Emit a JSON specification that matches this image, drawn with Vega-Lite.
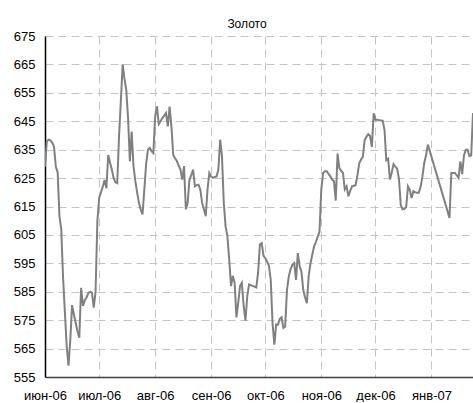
{
  "$schema": "https://vega.github.io/schema/vega-lite/v6.json",
  "width": 428,
  "height": 341,
  "padding": {"left": 0, "top": 18, "right": 0, "bottom": 0},
  "title": {"text": "Золото", "fontSize": 12, "fontWeight": "normal", "font": "Liberation Sans", "color": "#000000", "anchor": "middle", "frame": "group", "dx": -12, "offset": -1},
  "config": {"view": {"stroke": null}, "font": "Liberation Sans"},
  "data": {"values": [
    {"d":"2006-06-01","v":629},{"d":"2006-06-02","v":638},{"d":"2006-06-03","v":638.5},{"d":"2006-06-04","v":638.3},{"d":"2006-06-05","v":637.5},{"d":"2006-06-06","v":636},{"d":"2006-06-07","v":629},{"d":"2006-06-08","v":627},{"d":"2006-06-09","v":611.6},{"d":"2006-06-10","v":607},
    {"d":"2006-06-11","v":590},{"d":"2006-06-12","v":578},{"d":"2006-06-13","v":566},{"d":"2006-06-14","v":559},{"d":"2006-06-15","v":568},{"d":"2006-06-16","v":580.3},{"d":"2006-06-17","v":577},{"d":"2006-06-18","v":574},{"d":"2006-06-19","v":571},{"d":"2006-06-20","v":568.8},
    {"d":"2006-06-21","v":586.4},{"d":"2006-06-22","v":580},{"d":"2006-06-23","v":582},{"d":"2006-06-24","v":583},{"d":"2006-06-25","v":584.5},{"d":"2006-06-26","v":585},{"d":"2006-06-27","v":584.7},{"d":"2006-06-28","v":579.4},{"d":"2006-06-29","v":585},{"d":"2006-06-30","v":610},
    {"d":"2006-07-01","v":618},{"d":"2006-07-02","v":620},{"d":"2006-07-03","v":622},{"d":"2006-07-04","v":624.3},{"d":"2006-07-05","v":621.4},{"d":"2006-07-06","v":633.1},{"d":"2006-07-07","v":630.5},{"d":"2006-07-08","v":628},{"d":"2006-07-09","v":625},{"d":"2006-07-10","v":623.5},
    {"d":"2006-07-11","v":623.2},{"d":"2006-07-12","v":639.7},{"d":"2006-07-13","v":652},{"d":"2006-07-14","v":665},{"d":"2006-07-15","v":660},{"d":"2006-07-16","v":656},{"d":"2006-07-17","v":646},{"d":"2006-07-18","v":630.9},{"d":"2006-07-19","v":641.4},{"d":"2006-07-20","v":629.2},
    {"d":"2006-07-21","v":624},{"d":"2006-07-22","v":620},{"d":"2006-07-23","v":616.3},{"d":"2006-07-24","v":614},{"d":"2006-07-25","v":612.2},{"d":"2006-07-26","v":621},{"d":"2006-07-27","v":630},{"d":"2006-07-28","v":635},{"d":"2006-07-29","v":635.6},{"d":"2006-07-30","v":634.5},
    {"d":"2006-07-31","v":633.8},{"d":"2006-08-01","v":646.7},{"d":"2006-08-02","v":650.2},{"d":"2006-08-03","v":644},{"d":"2006-08-04","v":645},{"d":"2006-08-05","v":646.1},{"d":"2006-08-06","v":647},{"d":"2006-08-07","v":647.9},{"d":"2006-08-08","v":643.2},{"d":"2006-08-09","v":650.2},
    {"d":"2006-08-10","v":643.2},{"d":"2006-08-11","v":633.2},{"d":"2006-08-12","v":632},{"d":"2006-08-13","v":631},{"d":"2006-08-14","v":629.5},{"d":"2006-08-15","v":628},{"d":"2006-08-16","v":624.5},{"d":"2006-08-17","v":629.2},{"d":"2006-08-18","v":614},{"d":"2006-08-19","v":616.3},
    {"d":"2006-08-20","v":624.5},{"d":"2006-08-21","v":626},{"d":"2006-08-22","v":628},{"d":"2006-08-23","v":622.1},{"d":"2006-08-24","v":622.5},{"d":"2006-08-25","v":622.7},{"d":"2006-08-26","v":621},{"d":"2006-08-27","v":616.3},{"d":"2006-08-28","v":614},{"d":"2006-08-29","v":611.6},
    {"d":"2006-08-30","v":621},{"d":"2006-08-31","v":626.8},{"d":"2006-09-01","v":625.5},{"d":"2006-09-02","v":625.1},{"d":"2006-09-03","v":625.4},{"d":"2006-09-04","v":625.6},{"d":"2006-09-05","v":628},{"d":"2006-09-06","v":638.5},{"d":"2006-09-07","v":632.7},{"d":"2006-09-08","v":616.3},
    {"d":"2006-09-09","v":608},{"d":"2006-09-10","v":604.6},{"d":"2006-09-11","v":596.4},{"d":"2006-09-12","v":587},{"d":"2006-09-13","v":590.6},{"d":"2006-09-14","v":588.2},{"d":"2006-09-15","v":576},{"d":"2006-09-16","v":581.2},{"d":"2006-09-17","v":587},{"d":"2006-09-18","v":588.2},
    {"d":"2006-09-19","v":580},{"d":"2006-09-20","v":574.8},{"d":"2006-09-21","v":583.5},{"d":"2006-09-22","v":587.6},{"d":"2006-09-23","v":587.3},{"d":"2006-09-24","v":587},{"d":"2006-09-25","v":586.8},{"d":"2006-09-26","v":586.5},{"d":"2006-09-27","v":591.7},{"d":"2006-09-28","v":601.7},
    {"d":"2006-09-29","v":602.1},{"d":"2006-09-30","v":597.6},{"d":"2006-10-01","v":596.8},{"d":"2006-10-02","v":595.6},{"d":"2006-10-03","v":594.1},{"d":"2006-10-04","v":589.2},{"d":"2006-10-05","v":574},{"d":"2006-10-06","v":566.4},{"d":"2006-10-07","v":573.5},{"d":"2006-10-08","v":573.4},
    {"d":"2006-10-09","v":575.5},{"d":"2006-10-10","v":576},{"d":"2006-10-11","v":572.3},{"d":"2006-10-12","v":572.8},{"d":"2006-10-13","v":585.7},{"d":"2006-10-14","v":590.4},{"d":"2006-10-15","v":593},{"d":"2006-10-16","v":594.5},{"d":"2006-10-17","v":595.1},{"d":"2006-10-18","v":589.2},
    {"d":"2006-10-19","v":598.6},{"d":"2006-10-20","v":594},{"d":"2006-10-21","v":592.1},{"d":"2006-10-22","v":585.7},{"d":"2006-10-23","v":583},{"d":"2006-10-24","v":581},{"d":"2006-10-25","v":590.4},{"d":"2006-10-26","v":595},{"d":"2006-10-27","v":598},{"d":"2006-10-28","v":600.9},
    {"d":"2006-10-29","v":602.5},{"d":"2006-10-30","v":604.4},{"d":"2006-10-31","v":606.2},{"d":"2006-11-01","v":621},{"d":"2006-11-02","v":626.8},{"d":"2006-11-03","v":627.4},{"d":"2006-11-04","v":627.4},{"d":"2006-11-05","v":626.5},{"d":"2006-11-06","v":625.6},{"d":"2006-11-07","v":624.5},
    {"d":"2006-11-08","v":623.9},{"d":"2006-11-09","v":617.1},{"d":"2006-11-10","v":633.6},{"d":"2006-11-11","v":628.5},{"d":"2006-11-12","v":627.5},{"d":"2006-11-13","v":626.8},{"d":"2006-11-14","v":621},{"d":"2006-11-15","v":622.1},{"d":"2006-11-16","v":618.6},{"d":"2006-11-17","v":620.5},
    {"d":"2006-11-18","v":622.1},{"d":"2006-11-19","v":622.3},{"d":"2006-11-20","v":622.5},{"d":"2006-11-21","v":626},{"d":"2006-11-22","v":630.2},{"d":"2006-11-23","v":631.5},{"d":"2006-11-24","v":632.5},{"d":"2006-11-25","v":638.4},{"d":"2006-11-26","v":639.5},{"d":"2006-11-27","v":640.5},
    {"d":"2006-11-28","v":639.8},{"d":"2006-11-29","v":636},{"d":"2006-11-30","v":647.8},{"d":"2006-12-01","v":645.5},{"d":"2006-12-02","v":645.5},{"d":"2006-12-03","v":645.4},{"d":"2006-12-04","v":645.3},{"d":"2006-12-05","v":645.2},{"d":"2006-12-06","v":642},{"d":"2006-12-07","v":631.3},
    {"d":"2006-12-08","v":631.8},{"d":"2006-12-09","v":624.5},{"d":"2006-12-10","v":627},{"d":"2006-12-11","v":629.9},{"d":"2006-12-12","v":629},{"d":"2006-12-13","v":628.3},{"d":"2006-12-14","v":624.8},{"d":"2006-12-15","v":615.5},{"d":"2006-12-16","v":614},{"d":"2006-12-17","v":614.2},
    {"d":"2006-12-18","v":614.8},{"d":"2006-12-19","v":622.1},{"d":"2006-12-20","v":620.8},{"d":"2006-12-21","v":618},{"d":"2006-12-22","v":620.4},{"d":"2006-12-23","v":620},{"d":"2006-12-24","v":619.8},{"d":"2006-12-25","v":619.8},{"d":"2006-12-26","v":622},{"d":"2006-12-27","v":625.6},
    {"d":"2006-12-28","v":630.3},{"d":"2006-12-29","v":633},{"d":"2006-12-30","v":636.8},
    {"d":"2007-01-11","v":611},{"d":"2007-01-12","v":626.8},{"d":"2007-01-13","v":626.8},{"d":"2007-01-14","v":626.8},{"d":"2007-01-15","v":626},{"d":"2007-01-16","v":625.1},{"d":"2007-01-17","v":630.9},{"d":"2007-01-18","v":626.4},{"d":"2007-01-19","v":633},{"d":"2007-01-20","v":635},
    {"d":"2007-01-21","v":635},{"d":"2007-01-22","v":632.7},{"d":"2007-01-23","v":633},{"d":"2007-01-24","v":647.9}
  ]},
  "mark": {"type": "line", "color": "#808080", "strokeWidth": 2, "clip": true},
  "encoding": {
    "x": {
      "field": "d", "type": "temporal",
      "scale": {"type": "utc", "domain": [{"year": 2006, "month": 6, "date": 1, "utc": true}, {"year": 2007, "month": 1, "date": 24, "utc": true}], "nice": false},
      "axis": {
        "title": null,
        "values": [
          {"year": 2006, "month": 6, "date": 1, "utc": true},
          {"year": 2006, "month": 7, "date": 1, "utc": true},
          {"year": 2006, "month": 8, "date": 1, "utc": true},
          {"year": 2006, "month": 9, "date": 1, "utc": true},
          {"year": 2006, "month": 10, "date": 1, "utc": true},
          {"year": 2006, "month": 11, "date": 1, "utc": true},
          {"year": 2006, "month": 12, "date": 1, "utc": true},
          {"year": 2007, "month": 1, "date": 1, "utc": true}
        ],
        "labelExpr": "['янв','фев','мар','апр','май','июн','июл','авг','сен','окт','ноя','дек'][utcmonth(datum.value)] + '-' + utcFormat(datum.value, '%y')",
        "ticks": false, "labelPadding": 12, "labelFontSize": 13, "labelColor": "#000000", "labelFont": "Liberation Sans",
        "domainColor": "#404040", "domainWidth": 1.5,
        "grid": true, "gridColor": "#c4c4c4", "gridDash": [8, 5], "gridWidth": 1,
        "labelFlush": false, "labelOverlap": false
      }
    },
    "y": {
      "field": "v", "type": "quantitative",
      "scale": {"domain": [555, 675], "nice": false, "zero": false},
      "axis": {
        "title": null,
        "values": [555, 565, 575, 585, 595, 605, 615, 625, 635, 645, 655, 665, 675],
        "ticks": false, "labelPadding": 10, "labelFontSize": 13, "labelColor": "#000000", "labelFont": "Liberation Sans",
        "domainColor": "#000000", "domainWidth": 1.5,
        "grid": true, "gridColor": "#c4c4c4", "gridDash": [8, 5], "gridWidth": 1,
        "minExtent": 45, "maxExtent": 45, "labelFlush": false
      }
    }
  }
}
